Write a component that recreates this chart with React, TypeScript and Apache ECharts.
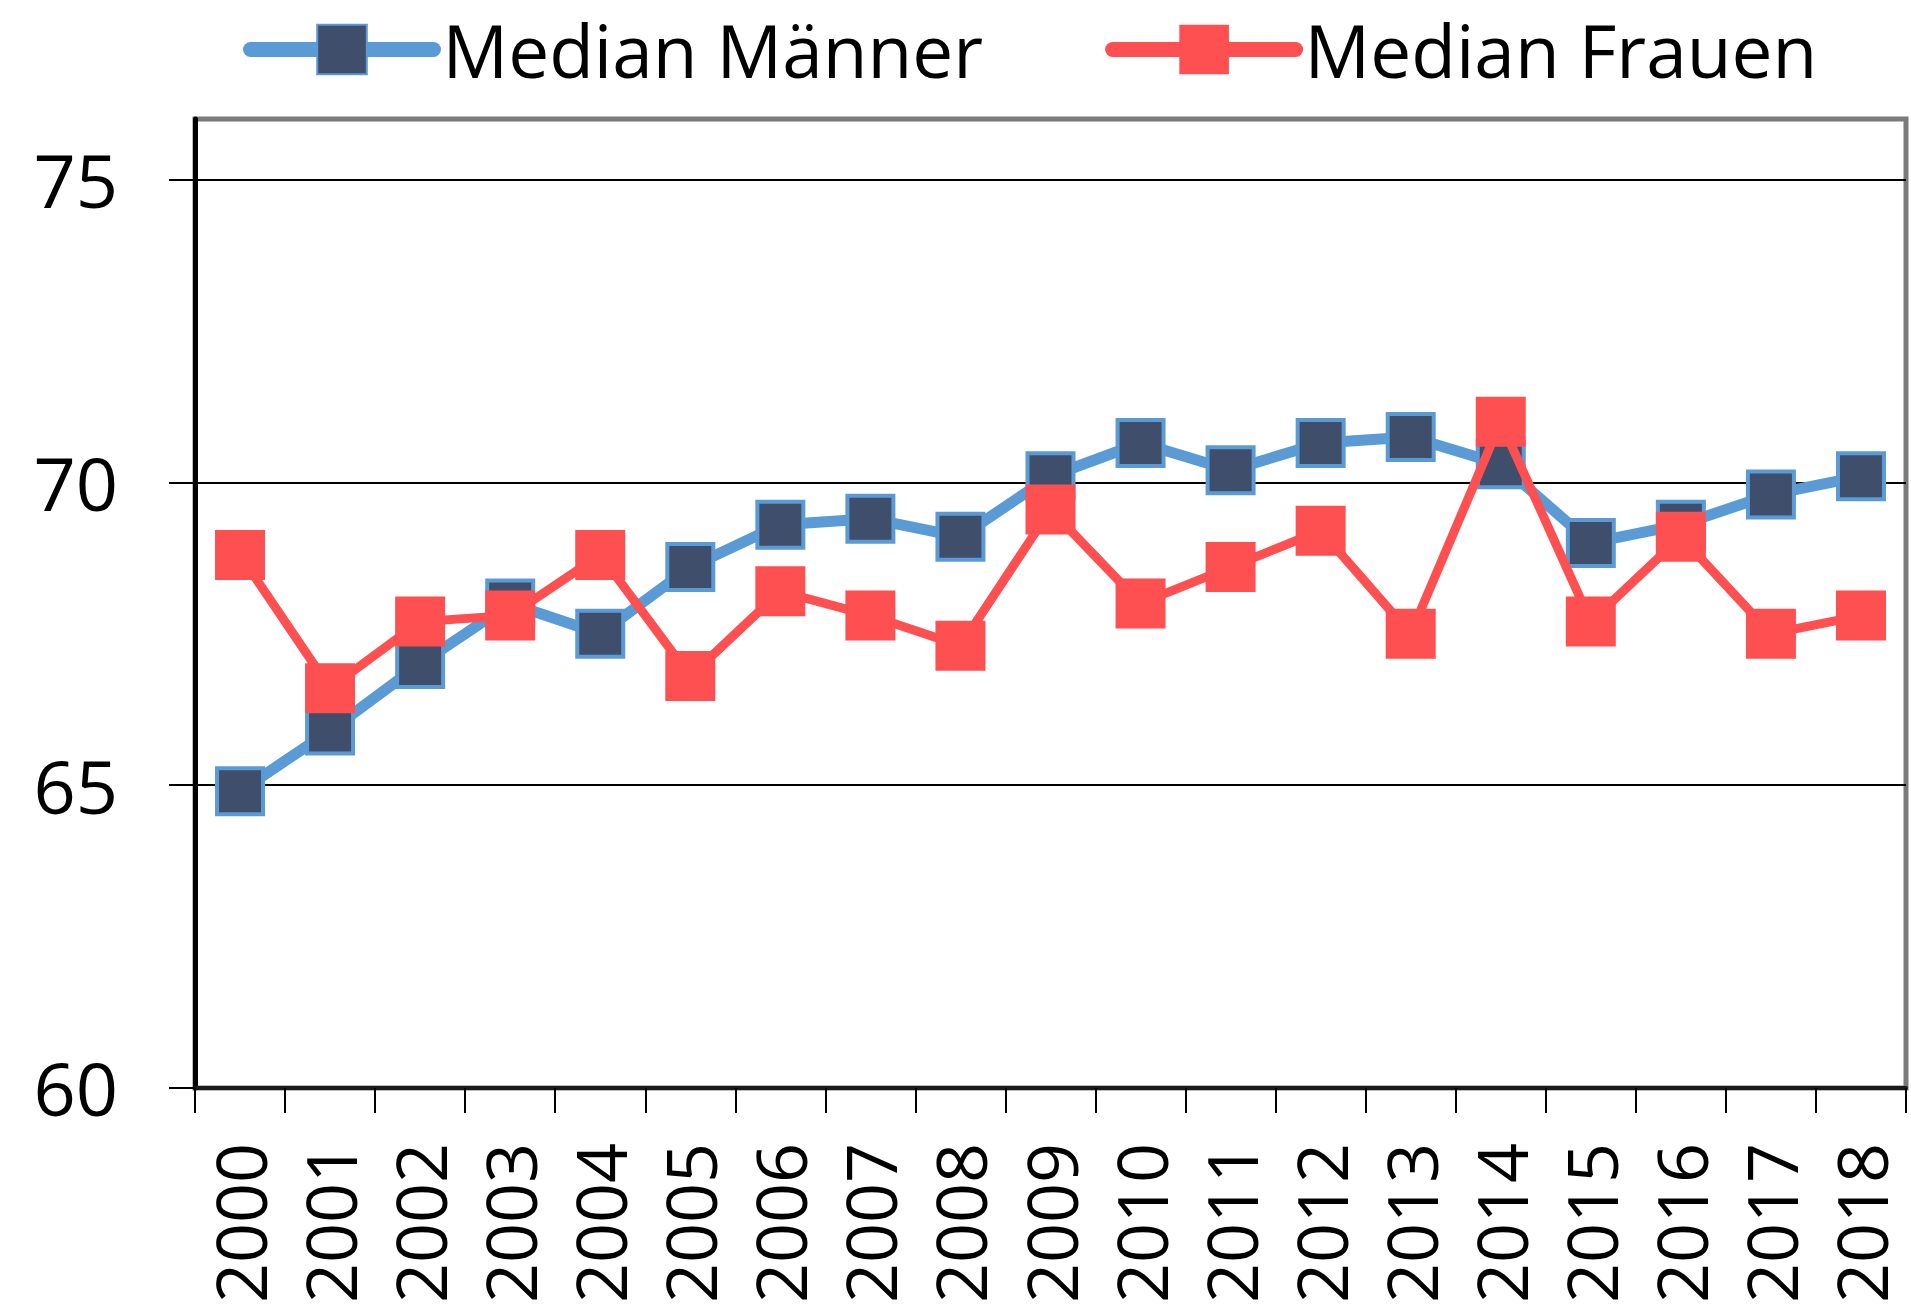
import React, { useEffect, useRef } from "react";
import * as echarts from "echarts";

const years = [
  "2000", "2001", "2002", "2003", "2004", "2005", "2006", "2007", "2008", "2009",
  "2010", "2011", "2012", "2013", "2014", "2015", "2016", "2017", "2018",
];
const medianMaenner = [
  64.9, 65.9, 67.0, 68.0, 67.5, 68.6, 69.3, 69.4, 69.1, 70.1,
  70.65, 70.2, 70.65, 70.75, 70.3, 69.0, 69.3, 69.8, 70.1,
];
const medianFrauen = [
  68.8, 66.6, 67.7, 67.8, 68.8, 66.8, 68.2, 67.8, 67.3, 69.55,
  68.0, 68.6, 69.2, 67.5, 71.0, 67.7, 69.1, 67.5, 67.8,
];
const yTicks = [60, 65, 70, 75];

const FONT = "'Open Sans', 'Liberation Sans', sans-serif";

export default function App() {
  const ref = useRef<HTMLDivElement>(null);
  useEffect(() => {
    document.body.style.margin = "0";
    if (!ref.current) return;
    const chart = echarts.init(ref.current, null, { renderer: "svg" });
    chart.setOption({
      animation: false,
      backgroundColor: "#ffffff",
      legend: {
        left: 238,
        top: 8,
        itemWidth: 183,
        itemHeight: 62,
        itemGap: 122,
        lineStyle: { width: 15, cap: "round" },
        textStyle: {
          fontFamily: FONT,
          fontSize: 73,
          color: "#000",
          padding: [0, 0, 0, 4],
        },
        data: ["Median Männer", "Median Frauen"],
      },
      grid: {
        left: 195,
        right: 5,
        top: 119,
        bottom: 218,
        show: true,
        borderColor: "#7a7a7a",
        borderWidth: 5,
        backgroundColor: "transparent",
      },
      xAxis: {
        type: "category",
        data: years,
        boundaryGap: true,
        axisLine: { show: true, lineStyle: { color: "#1a1a1a", width: 4 } },
        axisTick: {
          show: true,
          alignWithLabel: false,
          length: 25,
          lineStyle: { color: "#000", width: 2 },
        },
        axisLabel: {
          rotate: 90,
          margin: 55,
          fontFamily: FONT,
          fontSize: 70,
          color: "#000",
          interval: 0,
        },
        splitLine: { show: false },
      },
      yAxis: {
        type: "value",
        min: 60,
        max: 76,
        interval: 5,
        axisLine: { show: true, lineStyle: { color: "#000", width: 5 } },
        axisTick: {
          show: true,
          length: 26,
          customValues: yTicks,
          lineStyle: { color: "#000", width: 2 },
        },
        axisLabel: {
          margin: 77,
          fontFamily: FONT,
          fontSize: 74,
          color: "#000",
          customValues: yTicks,
        },
        splitLine: {
          show: true,
          lineStyle: {
            color: ["#000", "#000", "#000", "#000", "#7a7a7a"],
            width: 2,
          },
        },
      },
      series: [
        {
          name: "Median Männer",
          type: "line",
          data: medianMaenner,
          symbol: "rect",
          symbolSize: 46,
          lineStyle: { color: "#5b9bd5", width: 11 },
          itemStyle: { color: "#3f4e6b", borderColor: "#5b9bd5", borderWidth: 4 },
          z: 2,
        },
        {
          name: "Median Frauen",
          type: "line",
          data: medianFrauen,
          symbol: "rect",
          symbolSize: 50,
          lineStyle: { color: "#fe4f51", width: 9 },
          itemStyle: { color: "#fe4f51", borderWidth: 0 },
          z: 3,
        },
      ],
    });
    return () => chart.dispose();
  }, []);
  return <div ref={ref} style={{ width: 1911, height: 1306 }} />;
}
